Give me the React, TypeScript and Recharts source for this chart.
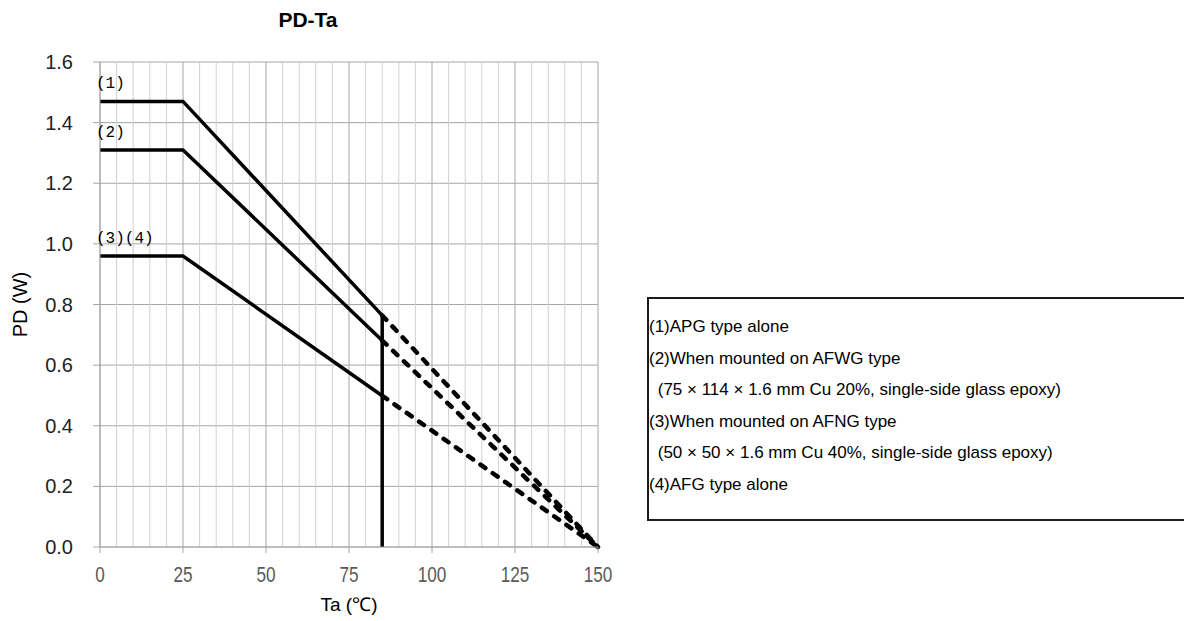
import React from "react";
import { LineChart, Line, XAxis, YAxis, CartesianGrid, ReferenceLine } from "recharts";

// Ta breakpoints (°C): flat up to 25, solid down to 85, dashed on to 150
const taSolid = [0, 25, 85];
const taDashed = [85, 150];

// PD (W)
const pd1Solid = [1.47, 1.47, 0.764];
const pd1Dashed = [0.764, 0];
const pd2Solid = [1.31, 1.31, 0.681];
const pd2Dashed = [0.681, 0];
const pd34Solid = [0.96, 0.96, 0.499];
const pd34Dashed = [0.499, 0];

const curveNames = ["(1)", "(2)", "(3)(4)"];
const cutoffTa = 85;

const xTicks = [0, 25, 50, 75, 100, 125, 150];
const xMinorTicks = [5, 10, 15, 20, 30, 35, 40, 45, 55, 60, 65, 70, 80, 85, 90, 95, 105, 110, 115, 120, 130, 135, 140, 145];
const yTicks = [0, 0.2, 0.4, 0.6, 0.8, 1.0, 1.2, 1.4, 1.6];

const legendLines = [
  "(1)APG type alone",
  "(2)When mounted on AFWG type",
  " (75 × 114 × 1.6 mm Cu 20%, single-side glass epoxy)",
  "(3)When mounted on AFNG type",
  " (50 × 50 × 1.6 mm Cu 40%, single-side glass epoxy)",
  "(4)AFG type alone",
];

const rows = (xs: number[], ys: number[]) => xs.map((ta, i) => ({ ta, pd: ys[i] }));

const sans = "'Liberation Sans', Arial, sans-serif";
const mincho = "'Liberation Mono', 'DejaVu Sans Mono', monospace";

const curveLabel = (text: string) => (props: any) => {
  if (props.index !== 0) return null;
  const x = props.viewBox?.x ?? props.x;
  const y = props.viewBox?.y ?? props.y;
  return (
    <text x={x - 4} y={y - 13} fontFamily={mincho} fontSize={16} fill="#000">
      {text}
    </text>
  );
};

// narrow, light tick labels like the original's gothic font
const XTick = (props: any) => {
  const { x, y, payload } = props;
  return (
    <g transform={`translate(${x},${y})`}>
      <text transform="scale(0.78,1)" textAnchor="middle" y={29} fontFamily={sans} fontSize={22} fill="#5a5a5a">
        {payload.value}
      </text>
    </g>
  );
};

const solid = { stroke: "#000", strokeWidth: 3.5, dot: false, isAnimationActive: false } as const;
const dashed = {
  stroke: "#000",
  strokeWidth: 4.5,
  strokeDasharray: "6 9",
  strokeLinecap: "round",
  dot: false,
  isAnimationActive: false,
} as const;

export default function App() {
  return (
    <div style={{ position: "fixed", left: 0, top: 0, width: 1184, height: 621, overflow: "hidden", background: "#fff" }}>
      <div
        style={{
          position: "absolute",
          left: 208,
          top: 8,
          width: 200,
          textAlign: "center",
          fontFamily: sans,
          fontWeight: "bold",
          fontSize: 21,
          lineHeight: "24px",
        }}
      >
        PD-Ta
      </div>

      <div style={{ position: "absolute", left: 0, top: 0 }}>
        <LineChart width={1184} height={621} margin={{ top: 62, right: 586, bottom: 14, left: 40 }}>
          <CartesianGrid stroke="#a6a6a6" strokeWidth={1} />
          {xMinorTicks.map((t) => (
            <ReferenceLine key={t} x={t} stroke="#d0d0d0" strokeWidth={1} />
          ))}
          <XAxis
            type="number"
            dataKey="ta"
            domain={[0, 150]}
            ticks={xTicks}
            height={60}
            interval={0}
            stroke="#a6a6a6"
            tickSize={6}
            tickMargin={0}
            tick={<XTick />}
            label={{
              content: (p: any) => (
                <text
                  x={p.viewBox.x + p.viewBox.width / 2}
                  y={p.viewBox.y + 64}
                  textAnchor="middle"
                  fontFamily={sans}
                  fontSize={19}
                  fill="#000"
                >
                  Ta (℃)
                </text>
              ),
            }}
          />
          <YAxis
            type="number"
            domain={[0, 1.6]}
            ticks={yTicks}
            width={60}
            interval={0}
            stroke="#a6a6a6"
            tickSize={7}
            tickMargin={20}
            tickFormatter={(v: number) => v.toFixed(1)}
            tick={{ fill: "#222", fontSize: 20, fontFamily: sans }}
            label={{
              content: (p: any) => (
                <text
                  x={20}
                  y={p.viewBox.y + p.viewBox.height / 2}
                  transform={`rotate(-90 20 ${p.viewBox.y + p.viewBox.height / 2})`}
                  textAnchor="middle"
                  dominantBaseline="central"
                  fontFamily={sans}
                  fontSize={20}
                  fill="#000"
                >
                  PD (W)
                </text>
              ),
            }}
          />

          <Line data={rows(taSolid, pd1Solid)} dataKey="pd" {...solid} label={curveLabel(curveNames[0])} />
          <Line data={rows(taSolid, pd2Solid)} dataKey="pd" {...solid} label={curveLabel(curveNames[1])} />
          <Line data={rows(taSolid, pd34Solid)} dataKey="pd" {...solid} label={curveLabel(curveNames[2])} />
          <Line data={rows(taDashed, pd1Dashed)} dataKey="pd" {...dashed} />
          <Line data={rows(taDashed, pd2Dashed)} dataKey="pd" {...dashed} />
          <Line data={rows(taDashed, pd34Dashed)} dataKey="pd" {...dashed} />

          <ReferenceLine
            segment={[
              { x: cutoffTa, y: 0 },
              { x: cutoffTa, y: pd1Solid[2] },
            ]}
            stroke="#000"
            strokeWidth={3.5}
          />
        </LineChart>
      </div>

      <div
        style={{
          position: "absolute",
          left: 647,
          top: 297,
          width: 560,
          height: 224,
          border: "2px solid #1a1a1a",
          boxSizing: "border-box",
          paddingTop: 12,
          fontFamily: sans,
          fontSize: 17,
          color: "#000",
        }}
      >
        {legendLines.map((line) => (
          <div key={line} style={{ lineHeight: "31.6px", whiteSpace: "pre", paddingLeft: line.startsWith(" ") ? 4 : 0 }}>
            {line}
          </div>
        ))}
      </div>
    </div>
  );
}
